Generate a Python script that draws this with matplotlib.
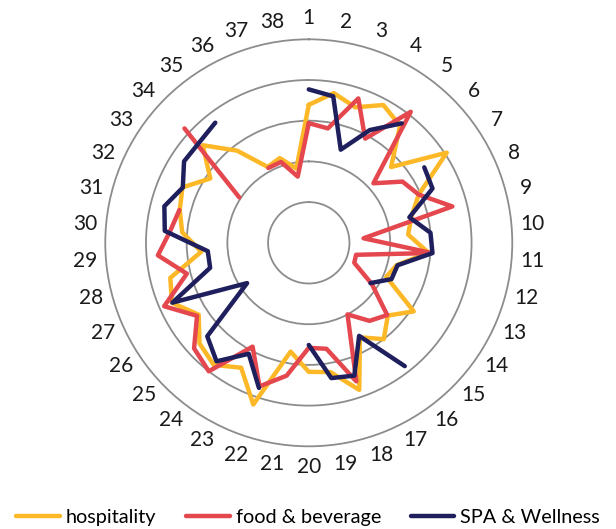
import numpy as np
import matplotlib.pyplot as plt

plt.rcParams['font.family'] = ['Lato', 'DejaVu Sans']

categories = [str(i) for i in range(1, 39)]

# values, nan = no value (line breaks there)
hospitality = [3.39, 3.73, 3.52, 3.85, 3.65, 2.75, 4.05, 2.95, 2.6, 2.45,
               2.95, 2.23, 2.08, 3.08, 2.64, 3.0, 2.64, 3.82, 3.22, 3.17,
               2.71, 4.2, 3.49, 3.8, 3.65, 3.23, 3.67, 3.51, 2.65, 3.12,
               3.27, 3.39, 2.89, 3.54, 2.87, 2.12, 2.2, 1.85]
food_beverage = [2.94, 2.85, 3.75, 2.91, 4.08, 2.16, 2.75, 2.95, 3.64, 1.35,
                 3.03, 1.2, 1.22, 1.85, 2.62, 2.43, 2.0, 3.6, 2.64, 2.58,
                 3.31, 3.73, 2.9, 4.0, 3.83, 3.28, 3.88, 3.09, 3.72, 3.42,
                 3.28, np.nan, 2.04, 4.15, np.nan, 2.09, 2.1, 1.65]
spa_wellness = [3.77, 3.65, 2.42, 3.15, 3.72, np.nan, 3.39, 3.32, 2.55, 3.0,
                3.05, 2.25, 2.22, 1.81, np.nan, 3.84, 2.6, 3.45, 3.37, 2.51,
                np.nan, 3.77, 3.1, 3.69, 3.39, 1.81, 3.66, 2.5, 2.49, 3.55,
                3.66, 3.38, 3.66, 3.65, 3.74, np.nan, np.nan, np.nan]

series = [("hospitality", hospitality, "#FDB827"),
          ("food & beverage", food_beverage, "#E5474F"),
          ("SPA & Wellness", spa_wellness, "#1E1F5C")]

n = len(categories)
angles = np.linspace(0, 2 * np.pi, n, endpoint=False)
angles_closed = np.append(angles, angles[0])

fig = plt.figure(figsize=(6.16, 5.29), dpi=100)
ax = fig.add_axes([0.1709, 0.1563, 0.6607, 0.7694], projection='polar')
ax.set_theta_zero_location('N')
ax.set_theta_direction(-1)

for name, vals, col in series:
    v = np.array(vals, dtype=float)
    v = np.append(v, v[0])
    ax.plot(angles_closed, v, color=col, lw=3.2, label=name,
            solid_capstyle='round', solid_joinstyle='round')

grey = '#8c8c8c'
ax.set_ylim(0, 5)
ax.set_yticks([1, 2, 3, 4])
ax.set_yticklabels([])
ax.yaxis.grid(True, color=grey, lw=1.3)
ax.xaxis.grid(False)
ax.set_xticks(angles)
ax.set_xticklabels(categories, fontsize=15, color='#1a1a1a')
ax.tick_params(axis='x', pad=8, length=0)
ax.spines['polar'].set_color(grey)
ax.spines['polar'].set_linewidth(1.3)

fig.legend(loc='lower center', bbox_to_anchor=(0.5, -0.028), ncol=3,
           frameon=False, fontsize=14.3, handlelength=2.2,
           handletextpad=0.3, columnspacing=1.5)

fig.savefig('out.png', dpi=100)
